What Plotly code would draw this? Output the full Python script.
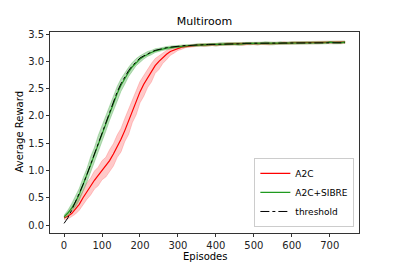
import plotly.graph_objects as go

episodes = [0, 10, 20, 30, 40, 50, 60, 70, 80, 90,
            100, 110, 120, 130, 140, 150, 160, 170, 180, 190,
            200, 210, 220, 230, 240, 250, 260, 270, 280, 290,
            300, 310, 320, 330, 340, 350, 360, 370, 380, 390,
            400, 410, 420, 430, 440, 450, 460, 470, 480, 490,
            500, 510, 520, 530, 540, 550, 560, 570, 580, 590,
            600, 610, 620, 630, 640, 650, 660, 670, 680, 690,
            700, 710, 720, 730, 740]

a2c_mean = [0.13, 0.16, 0.21, 0.29, 0.38, 0.50, 0.61, 0.72, 0.82, 0.91,
            1.00, 1.08, 1.18, 1.30, 1.43, 1.57, 1.73, 1.91, 2.09, 2.27,
            2.44, 2.58, 2.70, 2.82, 2.92, 3.00, 3.07, 3.13, 3.18, 3.21,
            3.24, 3.26, 3.27, 3.28, 3.29, 3.29,
            3.30, 3.30, 3.30, 3.31, 3.31, 3.31, 3.31, 3.32, 3.32, 3.32, 3.32, 3.32, 3.32, 3.33,
            3.33, 3.33, 3.33, 3.33, 3.33, 3.33, 3.33, 3.33, 3.34, 3.33, 3.34, 3.34, 3.34,
            3.34, 3.34, 3.34, 3.34, 3.34, 3.34, 3.35, 3.34, 3.34, 3.35, 3.34, 3.35]
a2c_low = [0.10, 0.11, 0.15, 0.20, 0.27, 0.37, 0.47, 0.55, 0.66, 0.72,
           0.83, 0.88, 0.99, 1.08, 1.24, 1.34, 1.53, 1.66, 1.88, 2.02,
           2.24, 2.36, 2.52, 2.62, 2.78, 2.85, 2.96, 3.03, 3.11, 3.15,
           3.20, 3.22, 3.25, 3.26, 3.27, 3.27,
           3.28, 3.27, 3.28, 3.29, 3.28, 3.29, 3.29, 3.30, 3.29, 3.30, 3.30, 3.29, 3.30, 3.31,
           3.31, 3.30, 3.31, 3.31, 3.30, 3.31, 3.31, 3.31, 3.32, 3.31, 3.32, 3.31, 3.32,
           3.32, 3.31, 3.32, 3.32, 3.32, 3.32, 3.33, 3.32, 3.32, 3.33, 3.32, 3.33]
a2c_high = [0.16, 0.21, 0.29, 0.37, 0.50, 0.62, 0.77, 0.86, 0.99, 1.06,
            1.18, 1.24, 1.38, 1.49, 1.65, 1.77, 1.95, 2.11, 2.30, 2.46,
            2.63, 2.74, 2.86, 2.96, 3.05, 3.10, 3.16, 3.20, 3.23, 3.25,
            3.27, 3.29, 3.29, 3.30, 3.31, 3.31,
            3.32, 3.32, 3.32, 3.33, 3.33, 3.33, 3.33, 3.34, 3.34, 3.34, 3.34, 3.34, 3.34, 3.35,
            3.35, 3.35, 3.35, 3.35, 3.35, 3.35, 3.35, 3.35, 3.36, 3.35, 3.36, 3.36, 3.36,
            3.36, 3.36, 3.36, 3.36, 3.36, 3.36, 3.37, 3.36, 3.36, 3.37, 3.36, 3.37]

sibre_mean = [0.15, 0.22, 0.31, 0.42, 0.56, 0.73, 0.91, 1.10, 1.29, 1.48,
              1.68, 1.87, 2.06, 2.24, 2.41, 2.56, 2.69, 2.80, 2.90, 2.98,
              3.04, 3.09, 3.13, 3.16, 3.19, 3.21, 3.23, 3.24, 3.25, 3.26,
              3.27, 3.28, 3.28, 3.29, 3.29, 3.30,
              3.30, 3.30, 3.31, 3.31, 3.31, 3.31, 3.32, 3.32, 3.32, 3.32, 3.32, 3.32, 3.33, 3.33,
              3.33, 3.33, 3.33, 3.33, 3.33, 3.33, 3.33, 3.34, 3.33, 3.34, 3.34, 3.34, 3.34,
              3.34, 3.34, 3.34, 3.34, 3.34, 3.34, 3.34, 3.35, 3.34, 3.34, 3.34, 3.35]
sibre_low = [0.12, 0.17, 0.24, 0.33, 0.45, 0.62, 0.78, 0.97, 1.14, 1.33,
             1.53, 1.72, 1.92, 2.11, 2.27, 2.45, 2.58, 2.72, 2.82, 2.92,
             2.98, 3.04, 3.09, 3.12, 3.16, 3.18, 3.20, 3.22, 3.23, 3.24,
             3.25, 3.26, 3.26, 3.27, 3.27, 3.28,
             3.27, 3.28, 3.28, 3.29, 3.28, 3.29, 3.30, 3.29, 3.30, 3.30, 3.29, 3.30, 3.31, 3.30,
             3.31, 3.30, 3.31, 3.31, 3.31, 3.30, 3.31, 3.32, 3.31, 3.32, 3.31, 3.32, 3.32,
             3.31, 3.32, 3.32, 3.32, 3.31, 3.32, 3.32, 3.33, 3.32, 3.32, 3.32, 3.33]
sibre_high = [0.18, 0.27, 0.39, 0.52, 0.67, 0.86, 1.03, 1.25, 1.42, 1.64,
              1.82, 2.03, 2.19, 2.38, 2.54, 2.68, 2.79, 2.89, 2.98, 3.05,
              3.10, 3.14, 3.18, 3.20, 3.23, 3.24, 3.26, 3.27, 3.28, 3.28,
              3.29, 3.30, 3.30, 3.31, 3.31, 3.32,
              3.32, 3.32, 3.33, 3.33, 3.33, 3.34, 3.34, 3.34, 3.34, 3.34, 3.35, 3.34, 3.35, 3.35,
              3.35, 3.35, 3.35, 3.36, 3.35, 3.35, 3.35, 3.36, 3.35, 3.36, 3.36, 3.36, 3.36,
              3.36, 3.36, 3.36, 3.36, 3.36, 3.36, 3.37, 3.37, 3.36, 3.36, 3.36, 3.37]

threshold = [0.03, 0.13, 0.27, 0.42, 0.57, 0.74, 0.92, 1.11, 1.30, 1.50,
             1.70, 1.90, 2.09, 2.27, 2.44, 2.59, 2.72, 2.83, 2.92, 3.00,
             3.06, 3.10, 3.14, 3.17, 3.20, 3.22, 3.23, 3.25, 3.26, 3.27,
             3.27, 3.28, 3.29, 3.29, 3.30, 3.30,
             3.30, 3.31, 3.31, 3.31, 3.31, 3.32, 3.32, 3.32, 3.32, 3.32, 3.32, 3.33, 3.33, 3.33,
             3.33, 3.33, 3.33, 3.33, 3.33, 3.33, 3.34, 3.34, 3.34, 3.34, 3.34, 3.34, 3.34,
             3.34, 3.34, 3.34, 3.34, 3.34, 3.34, 3.34, 3.34, 3.34, 3.34, 3.34, 3.34]

x_ticks = [0, 100, 200, 300, 400, 500, 600, 700]
y_ticks = [0.0, 0.5, 1.0, 1.5, 2.0, 2.5, 3.0, 3.5]

FONT = "DejaVu Sans"

fig = go.Figure()


def band(low, high, fillcol, linecol):
    fig.add_trace(go.Scatter(
        x=episodes + episodes[::-1], y=high + low[::-1],
        fill="toself", fillcolor=fillcol, mode="lines",
        line=dict(color=linecol, width=0.6),
        showlegend=False, hoverinfo="skip"))


band(a2c_low, a2c_high, "rgba(255,60,60,0.28)", "rgba(255,90,90,0.5)")
fig.add_trace(go.Scatter(x=episodes, y=a2c_mean, mode="lines", name="A2C",
                         line=dict(color="#ff0000", width=1.2)))
band(sibre_low, sibre_high, "rgba(0,128,0,0.28)", "rgba(60,170,60,0.5)")
fig.add_trace(go.Scatter(x=episodes, y=sibre_mean, mode="lines", name="A2C+SIBRE",
                         line=dict(color="#1f9a1f", width=1.2)))
fig.add_trace(go.Scatter(x=episodes, y=threshold, mode="lines", name="threshold",
                         line=dict(color="black", width=1, dash="dashdot")))

axis_common = dict(showline=True, linecolor="#333333", linewidth=0.8, mirror=True,
                   ticks="outside", ticklen=3, tickwidth=0.8, tickcolor="#333333",
                   showgrid=False, zeroline=False, automargin=False,
                   tickfont=dict(family=FONT, size=10, color="#222222"))

# The page body adds an 8px offset at top/left; figure size/margins compensate for it.
fig.update_layout(
    width=391, height=258,
    margin=dict(l=42, r=40, t=24, b=33, autoexpand=False),
    paper_bgcolor="white", plot_bgcolor="white",
    title=dict(text="Multiroom", x=(204.5 - 8) / 391, xanchor="center",
               y=1 - (21 - 8) / 258, yanchor="middle",
               automargin=False,
               font=dict(family=FONT, size=11, color="black")),
    xaxis=dict(range=[-37, 777], tickvals=x_ticks, **axis_common),
    yaxis=dict(range=[-0.146, 3.537], tickvals=y_ticks, tickformat=".1f", **axis_common),
    legend=dict(x=0.985, xanchor="right", y=0.03, yanchor="bottom",
                bgcolor="white", bordercolor="#cccccc", borderwidth=1,
                font=dict(family=FONT, size=9, color="black"),
                itemwidth=30, tracegroupgap=0),
    annotations=[
        dict(text="Episodes", xref="paper", yref="paper", x=0.5, y=0,
             xanchor="center", yanchor="middle", yshift=-23, showarrow=False,
             font=dict(family=FONT, size=10, color="black")),
        dict(text="Average Reward", xref="paper", yref="paper", x=0, y=0.5,
             xanchor="center", yanchor="middle", xshift=-31, textangle=-90,
             showarrow=False, font=dict(family=FONT, size=10, color="black")),
    ],
)

fig.write_html("out.html")
